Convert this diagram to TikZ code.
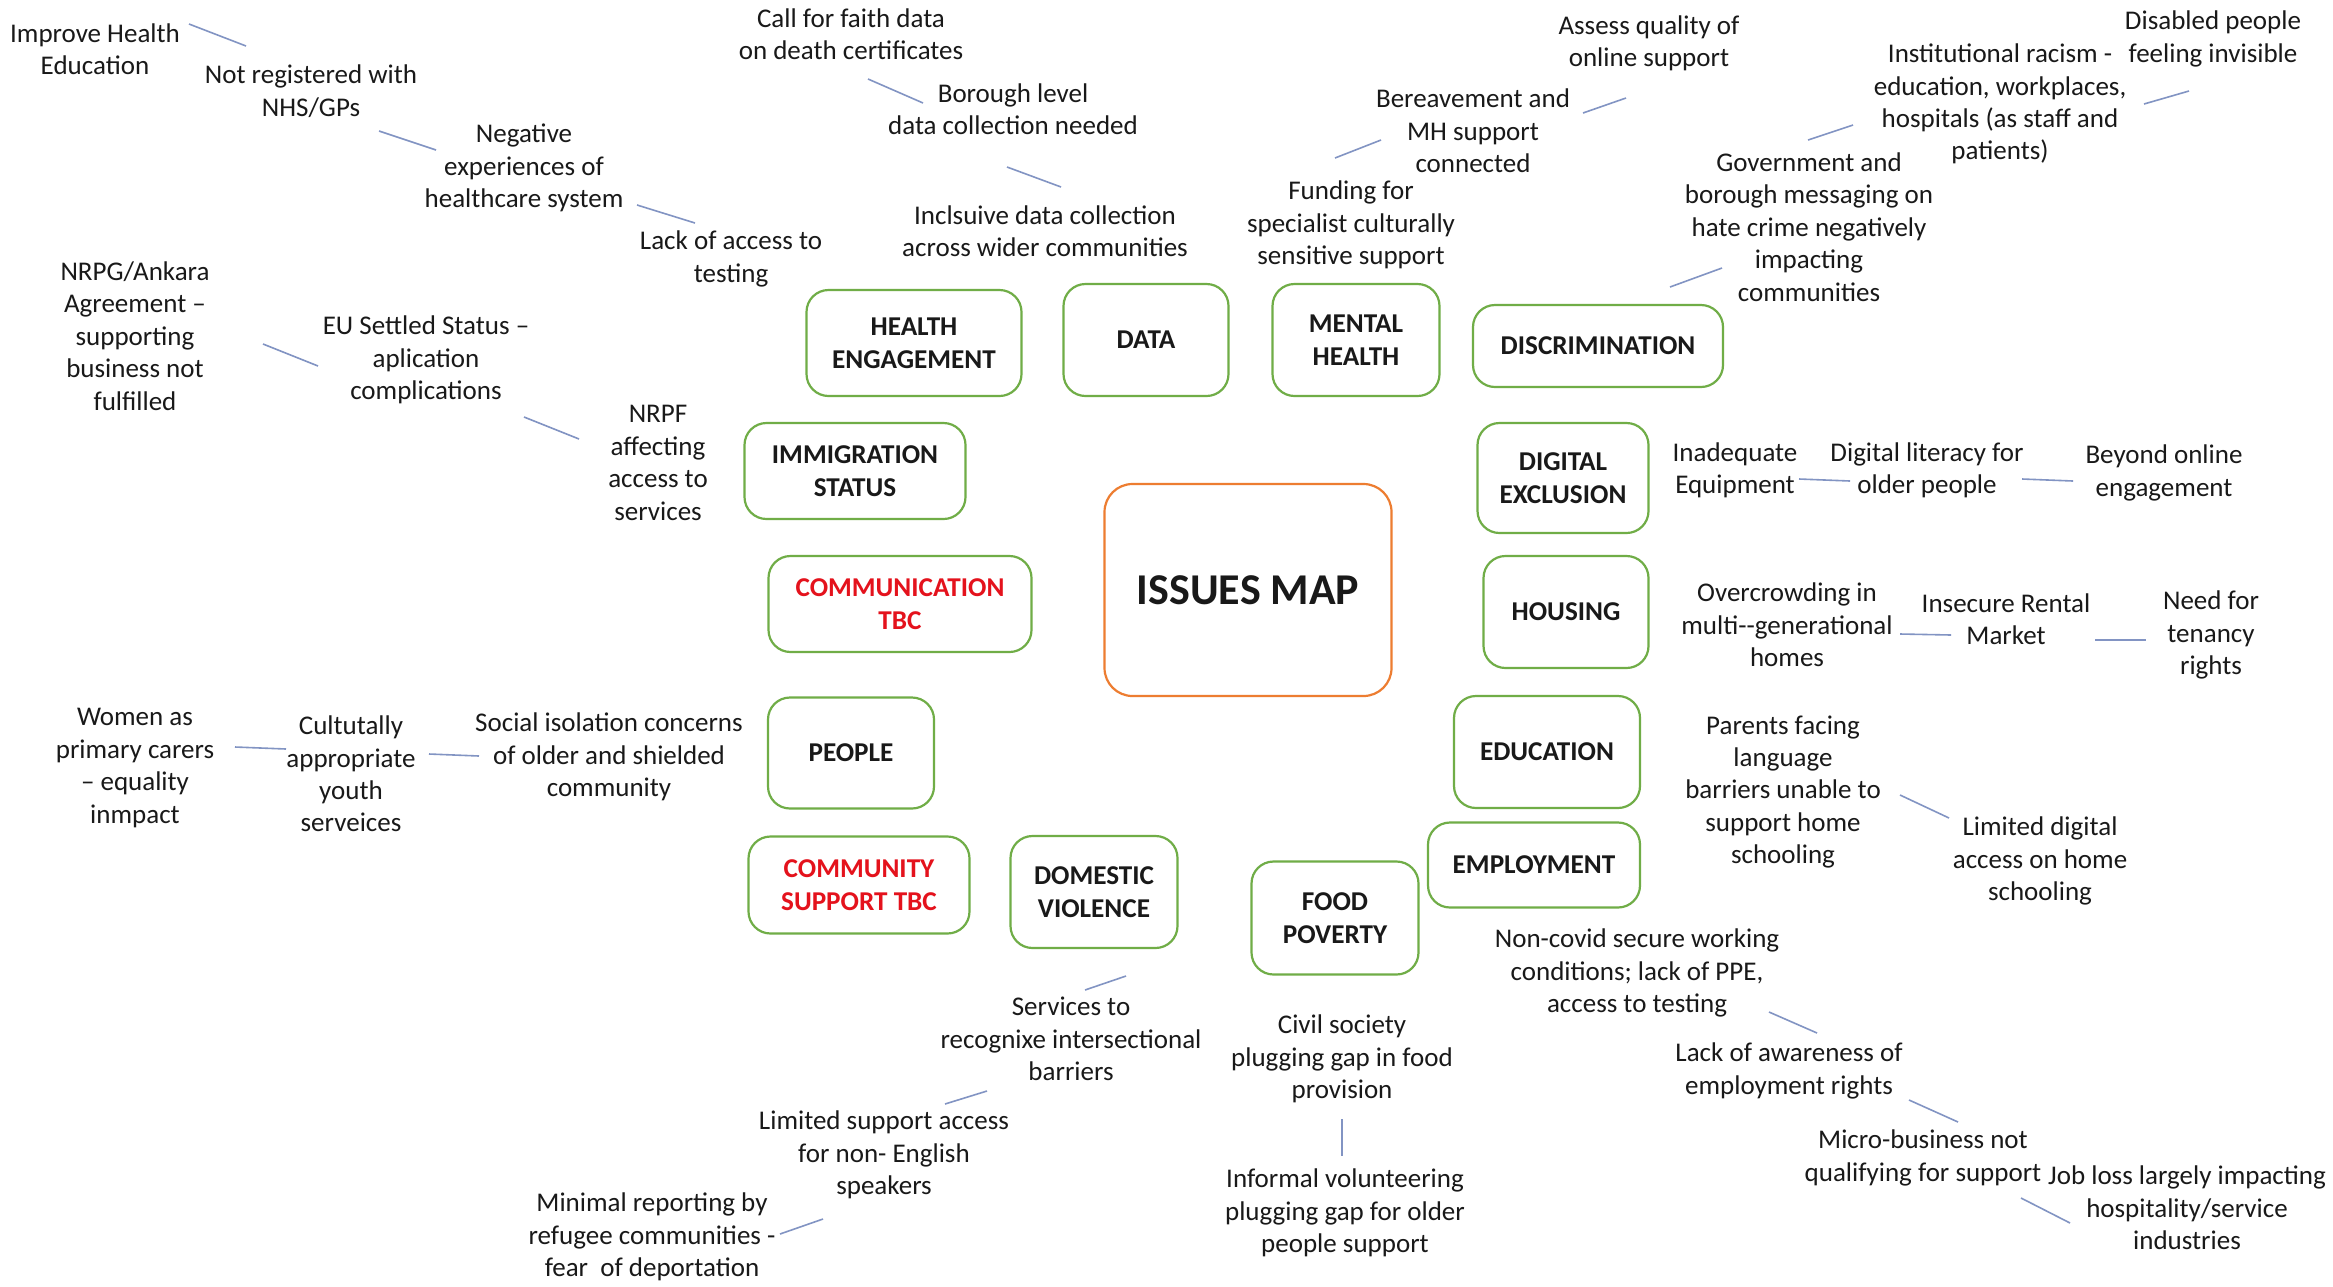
\documentclass[tikz,border=0pt]{standalone}
\usepackage{fontspec}
\setmainfont{Carlito}
\definecolor{boxgreen}{RGB}{112,173,71}
\definecolor{boxorange}{RGB}{237,125,49}
\definecolor{linecol}{RGB}{130,148,195}
\definecolor{tbcred}{RGB}{228,18,28}
\definecolor{txt}{RGB}{25,25,25}
\tikzset{
  lbl/.style={align=center, inner sep=0pt, text=txt, font=\fontsize{13.5}{16.2}\selectfont},
  topic/.style={draw=boxgreen, line width=1.1pt, rounded corners=11pt, fill=white, align=center,
    inner sep=2pt, text=txt, font=\fontsize{13.6}{16.4}\selectfont\bfseries},
  tbc/.style={topic, text=tbcred},
  hub/.style={draw=boxorange, line width=1.1pt, rounded corners=14pt, fill=white, align=center,
    text=txt, font=\fontsize{22}{26}\selectfont\bfseries},
  conn/.style={draw=linecol, line width=0.8pt}
}
\begin{document}
\begin{tikzpicture}[x=0.5pt,y=-0.5pt]
\fill[white] (0,0) rectangle (2333,1286);
\useasboundingbox (0,0) rectangle (2333,1286);

% ---------- hub ----------
\node[hub, minimum width=143.5pt, minimum height=106pt] (issues) at (1248,590) {ISSUES MAP};

% ---------- topic boxes ----------
\node[topic, minimum width=107.5pt, minimum height=53pt] (he) at (914,343) {HEALTH\\ENGAGEMENT};
\node[topic, minimum width=82.5pt, minimum height=56pt] (data) at (1146,340) {DATA};
\node[topic, minimum width=83.5pt, minimum height=56pt] (mh) at (1356,340) {MENTAL\\HEALTH};
\node[topic, minimum width=125pt, minimum height=41pt] (disc) at (1598,346) {DISCRIMINATION};
\node[topic, minimum width=85.5pt, minimum height=55pt] (digex) at (1563,478) {DIGITAL\\EXCLUSION};
\node[topic, minimum width=82.5pt, minimum height=56pt] (housing) at (1566,612) {HOUSING};
\node[topic, minimum width=93pt, minimum height=56pt] (edu) at (1547,752) {EDUCATION};
\node[topic, minimum width=106pt, minimum height=42.5pt] (emp) at (1534,865) {EMPLOYMENT};
\node[topic, minimum width=83.5pt, minimum height=56.5pt] (food) at (1335,918) {FOOD\\POVERTY};
\node[topic, minimum width=83.5pt, minimum height=56pt] (dv) at (1094,892) {DOMESTIC\\VIOLENCE};
\node[tbc, minimum width=110.5pt, minimum height=48.5pt] (cs) at (859,885) {COMMUNITY\\SUPPORT TBC};
\node[topic, minimum width=83pt, minimum height=55.5pt] (people) at (851,753) {PEOPLE};
\node[tbc, minimum width=131.5pt, minimum height=48pt] (comm) at (900,604) {COMMUNICATION\\TBC};
\node[topic, minimum width=110.5pt, minimum height=48pt] (imm) at (855,471) {IMMIGRATION\\STATUS};

% ---------- health engagement chain ----------
\node[lbl] (ihe) at (95,49) {Improve Health\\Education};
\node[lbl] (nreg) at (311,91) {Not registered with\\NHS/GPs};
\node[lbl] (neg) at (524,168) {Negative\\experiences of\\healthcare system};
\node[lbl] (lat) at (731,259) {Lack of access to\\testing};
\coordinate (c1a) at (189,24); \coordinate (c1b) at (246,46);
\coordinate (c2a) at (379,131); \coordinate (c2b) at (436,150);
\coordinate (c3a) at (637,205); \coordinate (c3b) at (695,223);
\draw[conn] (c1a) -- (c1b);
\draw[conn] (c2a) -- (c2b);
\draw[conn] (c3a) -- (c3b);

% ---------- data chain ----------
\node[lbl] (faith) at (851,34) {Call for faith data\\on death certificates};
\node[lbl] (borough) at (1013,109) {Borough level\\data collection needed};
\node[lbl] (incl) at (1045,231) {Inclsuive data collection\\across wider communities};
\coordinate (d1a) at (868,79); \coordinate (d1b) at (923,103);
\coordinate (d2a) at (1007,167); \coordinate (d2b) at (1061,187);
\draw[conn] (d1a) -- (d1b);
\draw[conn] (d2a) -- (d2b);

% ---------- mental health chain ----------
\node[lbl] (assess) at (1649,43) {Assess quality of\\online support};
\node[lbl] (bere) at (1473,131) {Bereavement and\\MH support\\connected};
\node[lbl] (fund) at (1351,225) {Funding for\\specialist culturally\\sensitive support};
\coordinate (m1a) at (1583,113); \coordinate (m1b) at (1626,98);
\coordinate (m2a) at (1335,158); \coordinate (m2b) at (1381,140);
\draw[conn] (m1a) -- (m1b);
\draw[conn] (m2a) -- (m2b);

% ---------- discrimination chain ----------
\node[lbl] (disab) at (2213,39) {Disabled people\\feeling invisible};
\node[lbl] (inst) at (2000,104) {Institutional racism -\\education, workplaces,\\hospitals (as staff and\\patients)};
\node[lbl] (gov) at (1809,227) {Government and\\borough messaging on\\hate crime negatively\\impacting\\communities};
\coordinate (r1a) at (2144,104); \coordinate (r1b) at (2189,91);
\coordinate (r2a) at (1808,140); \coordinate (r2b) at (1853,125);
\coordinate (r3a) at (1670,287); \coordinate (r3b) at (1722,268);
\draw[conn] (r1a) -- (r1b);
\draw[conn] (r2a) -- (r2b);
\draw[conn] (r3a) -- (r3b);

% ---------- immigration chain ----------
\node[lbl] (nrpg) at (135,336) {NRPG/Ankara\\Agreement –\\supporting\\business not\\fulfilled};
\node[lbl] (eu) at (426,360) {EU Settled Status –\\aplication\\complications};
\node[lbl] (nrpf) at (658,463) {NRPF\\affecting\\access to\\services};
\coordinate (i1a) at (263,344); \coordinate (i1b) at (318,366);
\coordinate (i2a) at (524,417); \coordinate (i2b) at (579,439);
\draw[conn] (i1a) -- (i1b);
\draw[conn] (i2a) -- (i2b);

% ---------- digital exclusion chain ----------
\node[lbl] (inad) at (1735,470) {Inadequate\\Equipment};
\node[lbl] (diglit) at (1927,470) {Digital literacy for\\older people};
\node[lbl] (beyond) at (2164,473) {Beyond online\\engagement};
\coordinate (x1a) at (1799,479); \coordinate (x1b) at (1850,481);
\coordinate (x2a) at (2022,479); \coordinate (x2b) at (2073,481);
\draw[conn] (x1a) -- (x1b);
\draw[conn] (x2a) -- (x2b);

% ---------- housing chain ----------
\node[lbl] (over) at (1787,625) {Overcrowding in\\multi-{}-generational\\homes};
\node[lbl] (insec) at (2006,619) {Insecure Rental\\Market};
\node[lbl] (tenancy) at (2211,635) {Need for\\tenancy\\rights};
\coordinate (h1a) at (1900,634); \coordinate (h1b) at (1951,635);
\coordinate (h2a) at (2095,640); \coordinate (h2b) at (2146,640);
\draw[conn] (h1a) -- (h1b);
\draw[conn] (h2a) -- (h2b);

% ---------- education chain ----------
\node[lbl] (parents) at (1783,792) {Parents facing\\language\\barriers unable to\\support home\\schooling};
\node[lbl] (limdig) at (2040,861) {Limited digital\\access on home\\schooling};
\coordinate (e1a) at (1900,795); \coordinate (e1b) at (1949,818);
\draw[conn] (e1a) -- (e1b);

% ---------- employment chain ----------
\node[lbl] (noncovid) at (1637,973) {Non-covid secure working\\conditions; lack of PPE,\\access to testing};
\node[lbl] (aware) at (1789,1071) {Lack of awareness of\\employment rights};
\node[lbl] (micro) at (1923,1158) {Micro-business not\\qualifying for support};
\node[lbl] (jobloss) at (2187,1208) {Job loss largely impacting\\hospitality/service\\industries};
\coordinate (w1a) at (1769,1012); \coordinate (w1b) at (1817,1033);
\coordinate (w2a) at (1909,1100); \coordinate (w2b) at (1958,1122);
\coordinate (w3a) at (2021,1198); \coordinate (w3b) at (2070,1223);
\draw[conn] (w1a) -- (w1b);
\draw[conn] (w2a) -- (w2b);
\draw[conn] (w3a) -- (w3b);

% ---------- food poverty chain ----------
\node[lbl] (civil) at (1342,1059) {Civil society\\plugging gap in food\\provision};
\node[lbl] (informal) at (1345,1213) {Informal volunteering\\plugging gap for older\\people support};
\coordinate (f1a) at (1342,1119); \coordinate (f1b) at (1342,1156);
\draw[conn] (f1a) -- (f1b);

% ---------- domestic violence chain ----------
\node[lbl] (services) at (1071,1039) {Services to\\recognixe intersectional\\barriers};
\node[lbl] (limsup) at (884,1155) {Limited support access\\for non- English\\speakers};
\node[lbl] (minimal) at (652,1237) {Minimal reporting by\\refugee communities -\\fear\ \ of deportation};
\coordinate (v1a) at (1085,990); \coordinate (v1b) at (1126,976);
\coordinate (v2a) at (945,1104); \coordinate (v2b) at (987,1091);
\coordinate (v3a) at (780,1234); \coordinate (v3b) at (823,1219);
\draw[conn] (v1a) -- (v1b);
\draw[conn] (v2a) -- (v2b);
\draw[conn] (v3a) -- (v3b);

% ---------- people chain ----------
\node[lbl] (women) at (135,768) {Women as\\primary carers\\– equality\\inmpact};
\node[lbl] (youth) at (351,774) {Cultutally\\appropriate\\youth\\serveices};
\node[lbl] (social) at (609,757) {Social isolation concerns\\of older and shielded\\community};
\coordinate (p1a) at (235,747); \coordinate (p1b) at (286,749);
\coordinate (p2a) at (429,754); \coordinate (p2b) at (479,756);
\draw[conn] (p1a) -- (p1b);
\draw[conn] (p2a) -- (p2b);
\end{tikzpicture}
\end{document}
